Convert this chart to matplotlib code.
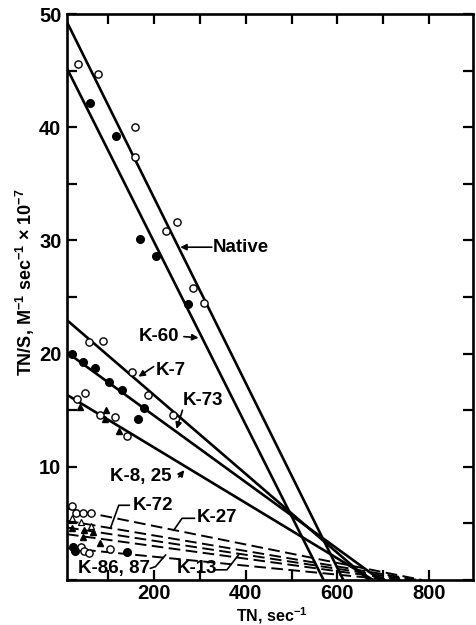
"""
Eadie-Hofstee style plot: TN/S against TN for the native enzyme and mutants.
"""

import matplotlib
matplotlib.use("Agg")
import matplotlib.pyplot as plt
from matplotlib.ticker import MultipleLocator

plt.rcParams['font.family'] = ['Liberation Sans', 'DejaVu Sans']
plt.rcParams['font.weight'] = 'bold'
plt.rcParams['mathtext.fontset'] = 'custom'
plt.rcParams['mathtext.rm'] = 'Liberation Sans:bold'
plt.rcParams['mathtext.bf'] = 'Liberation Sans:bold'
plt.rcParams['mathtext.default'] = 'bf'

# Fitted lines: intercept on the TN/S axis and on the TN axis
solid_names = ["Native", "K-60", "K-7", "K-73", "K-8, 25"]
solid_y0 = [50.1, 46.0, 23.3, 20.4, 16.6]
solid_xint = [613, 570, 669, 694, 678]

dashed_names = ["K-27", "K-72", "K-13a", "K-13", "K-86, 87"]
dashed_y0 = [6.4, 5.3, 4.7, 4.1, 2.85]
dashed_xint = [785, 775, 760, 740, 720]

# Measured points
native_x = [34, 78, 159, 159, 227, 251, 285, 310]
native_y = [45.6, 44.7, 40.0, 37.4, 30.8, 31.6, 25.8, 24.5]
k60_x = [61, 117, 170, 205, 274]
k60_y = [42.1, 39.2, 30.1, 28.6, 24.4]
k7_x = [57, 89, 152, 186, 241]
k7_y = [21.0, 21.1, 18.4, 16.3, 14.6]
k73_x = [21, 45, 72, 101, 129, 177, 164]
k73_y = [20.0, 19.3, 18.7, 17.5, 16.8, 15.2, 14.2]
k825_open_x = [32, 50, 81, 114, 141]
k825_open_y = [16.0, 16.5, 14.6, 14.4, 12.7]
k825_tri_x = [39, 96, 92, 123]
k825_tri_y = [15.3, 15.0, 14.2, 13.2]

k27_x = [21, 30, 45, 63]
k27_y = [6.55, 5.95, 5.95, 5.95]
k72_x = [21, 41, 63]
k72_y = [5.5, 5.15, 4.8]
k13_tri_x = [21, 48, 67, 46, 83]
k13_tri_y = [4.6, 4.4, 4.2, 3.8, 3.3]
k86_filled_x = [23, 28, 140]
k86_filled_y = [2.9, 2.6, 2.45]
k86_open_x = [41, 48, 57, 103]
k86_open_y = [2.9, 2.6, 2.35, 2.7]

X_MIN, X_MAX = 10, 896

fig = plt.figure(figsize=(4.76, 6.25), dpi=100, facecolor='white')
ax = fig.add_axes([67 / 476, 1 - 580 / 625, 406 / 476, 566 / 625])

# Lines
for y0, xint in zip(solid_y0, solid_xint):
    ax.plot([X_MIN, xint], [y0 * (1 - X_MIN / xint), 0], color='black', lw=1.9,
            solid_capstyle='butt')
for y0, xint in zip(dashed_y0, dashed_xint):
    ax.plot([X_MIN, xint], [y0 * (1 - X_MIN / xint), 0], color='black', lw=1.4,
            dashes=(6, 2.8))

# Points
open_kw = dict(ls='none', marker='o', ms=5.2, mfc='white', mec='black', mew=1.0)
fill_kw = dict(ls='none', marker='o', ms=5.5, mfc='black', mec='black')
tri_kw = dict(ls='none', marker='^', ms=4.8, mfc='black', mec='black')
small_tri_kw = dict(ls='none', marker='^', ms=4.0, mfc='white', mec='black', mew=0.9)

ax.plot(native_x, native_y, **open_kw)
ax.plot(k60_x, k60_y, **fill_kw)
ax.plot(k7_x, k7_y, **open_kw)
ax.plot(k73_x, k73_y, **fill_kw)
ax.plot(k825_open_x, k825_open_y, **open_kw)
ax.plot(k825_tri_x, k825_tri_y, **tri_kw)
ax.plot(k27_x, k27_y, **open_kw)
ax.plot(k72_x, k72_y, **small_tri_kw)
ax.plot(k13_tri_x, k13_tri_y, **tri_kw)
ax.plot(k86_open_x, k86_open_y, **open_kw)
ax.plot(k86_filled_x, k86_filled_y, **fill_kw)

# Labels with arrows
lab_fs = 13.5
arrow = dict(arrowstyle='-|>', color='black', lw=1.2, mutation_scale=9,
             shrinkA=0, shrinkB=0)
ax.text(329, 29.4, "Native", fontsize=lab_fs, va='center', ha='left')
ax.annotate('', xy=(257, 29.4), xytext=(326, 29.4), arrowprops=arrow)
ax.text(166, 21.5, "K-60", fontsize=lab_fs, va='center', ha='left')
ax.annotate('', xy=(297, 21.4), xytext=(265, 21.5), arrowprops=arrow)
ax.text(203, 18.55, "K-7", fontsize=lab_fs, va='center', ha='left')
ax.annotate('', xy=(166, 17.96), xytext=(199, 18.85), arrowprops=arrow)
ax.text(262, 15.9, "K-73", fontsize=lab_fs, va='center', ha='left')
ax.annotate('', xy=(249, 13.35), xytext=(262, 15.0), arrowprops=arrow)
ax.text(104, 9.1, "K-8, 25", fontsize=lab_fs, va='center', ha='left')
ax.annotate('', xy=(266, 9.7), xytext=(254, 9.1), arrowprops=arrow)

# Bracket-style pointers for the dashed lines
ax.text(153, 6.6, "K-72", fontsize=lab_fs, va='center', ha='left')
ax.plot([146, 123, 105], [6.6, 6.6, 4.6], color='black', lw=1.2)
ax.text(294, 5.5, "K-27", fontsize=lab_fs, va='center', ha='left')
ax.plot([288, 261, 243], [5.45, 5.45, 4.4], color='black', lw=1.2)
ax.text(250, 1.06, "K-13", fontsize=lab_fs, va='center', ha='left')
ax.plot([334, 359, 384], [0.9, 0.9, 2.2], color='black', lw=1.2)
ax.text(35, 1.06, "K-86, 87", fontsize=lab_fs, va='center', ha='left')
ax.plot([192, 203, 225], [1.03, 1.18, 2.2], color='black', lw=1.2)

# Axes styling
ax.set_xlim(X_MIN, X_MAX)
ax.set_ylim(0, 50)
ax.xaxis.set_major_locator(MultipleLocator(200))
ax.xaxis.set_minor_locator(MultipleLocator(100))
ax.yaxis.set_major_locator(MultipleLocator(10))
ax.yaxis.set_minor_locator(MultipleLocator(5))
ax.tick_params(which='both', direction='in', top=True, right=True, width=1.6,
               labeltop=False, labelright=False)
ax.tick_params(which='major', length=7, labelsize=14.5, pad=4)
ax.tick_params(axis='x', which='major', pad=3)
ax.tick_params(which='minor', length=7)
ax.set_xticks([200, 400, 600, 800])
ax.set_yticks([10, 20, 30, 40, 50])
for lab in ax.get_xticklabels() + ax.get_yticklabels():
    lab.set_fontweight('bold')
for side in ax.spines.values():
    side.set_linewidth(1.9)

fig.text(25 / 476, 1 - 282 / 625, r"TN/S, M$^{-1}$ sec$^{-1}$ × 10$^{-7}$",
         rotation=90, fontsize=13, ha='center', va='center')
fig.text(272 / 476, 4 / 625, r"TN, sec$^{-1}$", fontsize=11.5,
         ha='center', va='baseline')

plt.savefig("out.png", dpi=100, facecolor='white')
plt.close()
